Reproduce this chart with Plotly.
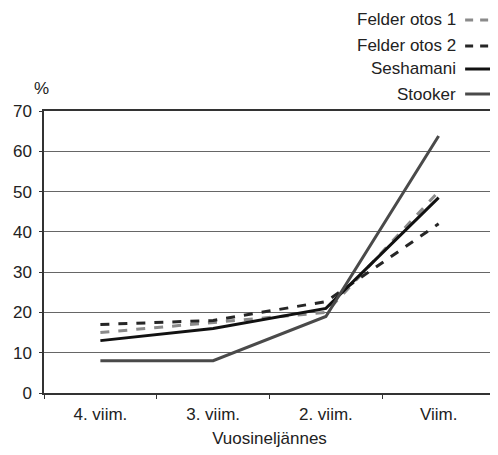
import plotly.graph_objects as go

categories = ["4. viim.", "3. viim.", "2. viim.", "Viim."]
felder1 = [15, 17.5, 20, 50]
felder2 = [17, 18, 22.7, 42]
seshamani = [13, 16, 21, 48.5]
stooker = [8, 8, 19, 63.8]
series_names = ["Felder otos 1", "Felder otos 2", "Seshamani", "Stooker"]
series_values = [felder1, felder2, seshamani, stooker]

colors = ["#8a8a8a", "#262626", "#111111", "#4a4a4a"]
dashes = ["dash", "dash", "solid", "solid"]

FONT = "Liberation Sans, Arial, sans-serif"
OFF = 8  # page body margin
W, H = 498 - OFF, 455 - OFF
L, R, T, B = 44 - OFF, 1, 111 - OFF, 62
PW, PH = W - L - R, H - T - B

def px(x):  # x in window pixels
    return (x - OFF - L) / PW

def py(y):
    return (H - B - (y - OFF)) / PH

fig = go.Figure()
for name, vals, col, dash in zip(series_names, series_values, colors, dashes):
    fig.add_trace(go.Scatter(x=categories, y=vals, mode="lines", name=name,
                             line=dict(color=col, width=3, dash=dash),
                             showlegend=False))

# custom legend: text right-aligned, sample line on right
leg_y = [20, 46, 69, 94]
for name, col, dash, yp in zip(series_names, colors, dashes, leg_y):
    fig.add_annotation(xref="paper", yref="paper", x=px(460), y=py(yp),
                       text=name, showarrow=False,
                       font=dict(family=FONT, size=17, color="#222"),
                       xanchor="right", yanchor="middle")
    fig.add_shape(type="line", xref="paper", yref="paper",
                  x0=px(467), x1=px(498), y0=py(yp), y1=py(yp),
                  line=dict(color=col, width=3,
                            dash="8px,7px" if dash == "dash" else "solid"))

fig.add_annotation(xref="paper", yref="paper", x=px(41), y=py(88), text="%",
                   showarrow=False, font=dict(family=FONT, size=17, color="#222"),
                   xanchor="center", yanchor="middle")

fig.update_layout(
    width=W, height=H,
    margin=dict(l=L, r=R, t=T, b=B),
    plot_bgcolor="white", paper_bgcolor="white",
    font=dict(family=FONT, size=17, color="#222"),
    xaxis=dict(showgrid=False, showline=True, linecolor="#333", linewidth=1.5,
               mirror=True, ticks="outside", ticklen=4, tickcolor="#333",
               tickson="boundaries", range=[-0.5, 3.5], tickfont=dict(size=17),
               ticklabelstandoff=5,
               title=dict(text="Vuosineljännes", font=dict(size=17), standoff=9)),
    yaxis=dict(range=[0, 70], dtick=10, showgrid=True, gridcolor="#666", gridwidth=1,
               showline=True, linecolor="#333", linewidth=1.5, mirror=True,
               ticks="outside", ticklen=3, tickcolor="#333", tickfont=dict(size=17),
               ticklabelstandoff=4, zeroline=False),
)
fig.write_html("out.html")
